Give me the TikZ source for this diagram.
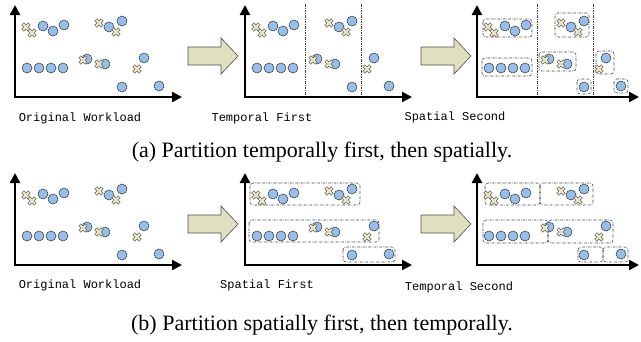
\documentclass[tikz,border=0pt]{standalone}
\usepackage{fontspec}
\setmainfont{Liberation Serif}
\setmonofont{Liberation Mono}
\usetikzlibrary{arrows.meta}
\definecolor{cblue}{RGB}{150,190,232}
\definecolor{xfill}{RGB}{232,228,200}
\definecolor{afill}{RGB}{224,224,192}
\tikzset{
  pt/.style={circle, minimum size=10pt, inner sep=0pt, fill=cblue, draw=black!80, line width=0.5pt},
  axis/.style={line width=2.4pt, {Triangle[length=10pt,width=10pt]}-{Triangle[length=10pt,width=10pt]}},
  dd/.style={line width=0.6pt, draw=black!75, dash pattern=on 2.5pt off 1.2pt on 0.6pt off 1.2pt},
  grp/.style={dd, rounded corners=3pt},
  lbl/.style={font=\ttfamily\fontsize{12}{12}\selectfont, inner sep=0pt},
  captext/.style={font=\fontsize{22}{22}\selectfont, inner sep=0pt},
  bigarrow/.style={fill=afill, draw=black!70, line width=0.6pt},
  xm/.pic={\filldraw[fill=xfill, draw=black!75, line width=0.45pt, rotate=45]
     (1.5,4.5)--(1.5,1.5)--(4.5,1.5)--(4.5,-1.5)--(1.5,-1.5)--(1.5,-4.5)--(-1.5,-4.5)--(-1.5,-1.5)--(-4.5,-1.5)--(-4.5,1.5)--(-1.5,1.5)--(-1.5,4.5)--cycle;}
}
\newcommand{\wpoints}{%
  \foreach \x/\y [count=\i] in {43/26,53/31,64/25,109/27,122/21,27/68,39/68,51/68,63/68,87/59,105/64,144/58,122/87,159/86}
    {\node[pt] (c\i) at (\x,\y) {};}
  \foreach \x/\y in {26/27,32/33,99/23,116/32,83/60,99/64,137/69}
    {\pic at (\x,\y) {xm};}
}
\newcommand{\waxes}[1]{%
  \coordinate (ytop) at (15,5);
  \coordinate (orig) at (15,97);
  \coordinate (xend) at (#1,97);
  \draw[axis] (ytop) -- (orig) -- (xend);
}
\newcommand{\bigarr}[2]{%
  \begin{scope}[shift={(#1,#2)}]
    \draw[bigarrow] (0,47)--(33,47)--(33,38)--(50,56)--(33,74)--(33,65)--(0,65)--cycle;
  \end{scope}
}
\begin{document}
\begin{tikzpicture}[x=1pt,y=-1pt]
\useasboundingbox (0,0) rectangle (641,341);
% ---------------- row (a)
\begin{scope}[shift={(0,0)}]
  \waxes{182}
  \wpoints
\end{scope}
\begin{scope}[shift={(230,0)}]
  \coordinate (t1a) at (75,4); \coordinate (t1b) at (75,95);
  \coordinate (t2a) at (131,4); \coordinate (t2b) at (131,95);
  \draw[dd] (t1a) -- (t1b);
  \draw[dd] (t2a) -- (t2b);
  \waxes{182}
  \wpoints
\end{scope}
\begin{scope}[shift={(462,0)}]
  \coordinate (s1a) at (75,4); \coordinate (s1b) at (75,95);
  \coordinate (s2a) at (131,4); \coordinate (s2b) at (131,95);
  \draw[dd] (s1a) -- (s1b);
  \draw[dd] (s2a) -- (s2b);
  \draw[grp] (21,19) rectangle (70,37);
  \draw[grp] (93,13) rectangle (127,37);
  \draw[grp] (20,58) rectangle (70,76);
  \draw[grp] (77,52) rectangle (114,71);
  \draw[grp] (134,51) rectangle (152,74);
  \draw[grp] (115,79) rectangle (129,94);
  \draw[grp] (152,79) rectangle (166,93);
  \waxes{177}
  \wpoints
\end{scope}
\bigarr{188}{0}
\bigarr{421}{0}
\node[lbl] (la1) at (80,118) {Original Workload};
\node[lbl] (la2) at (262,118) {Temporal First};
\node[lbl] (la3) at (455,117) {Spatial Second};
\node[captext] (capa) at (322,152) {(a) Partition temporally first, then spatially.};
% ---------------- row (b)
\begin{scope}[shift={(0,168)}]
  \waxes{182}
  \wpoints
\end{scope}
\begin{scope}[shift={(230,168)}]
  \draw[grp] (20,15) rectangle (130,37);
  \draw[grp] (19,52) rectangle (149,74);
  \draw[grp] (113,79) rectangle (165,94);
  \waxes{182}
  \wpoints
\end{scope}
\begin{scope}[shift={(462,168)}]
  \draw[grp] (23,15) rectangle (78,37);
  \draw[grp] (78,15) rectangle (131,37);
  \draw[grp] (21,52) rectangle (86,75);
  \draw[grp] (86,52) rectangle (151,75);
  \draw[grp] (116,79) rectangle (141,94);
  \draw[grp] (141,79) rectangle (166,94);
  \waxes{177}
  \wpoints
\end{scope}
\bigarr{188}{168}
\bigarr{421}{168}
\node[lbl] (lb1) at (80,285) {Original Workload};
\node[lbl] (lb2) at (267,285) {Spatial First};
\node[lbl] (lb3) at (459,287) {Temporal Second};
\node[captext] (capb) at (322,325) {(b) Partition spatially first, then temporally.};
\end{tikzpicture}
\end{document}
